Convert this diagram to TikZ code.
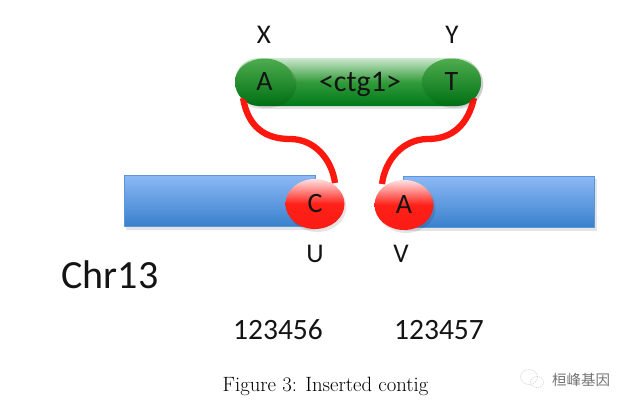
\documentclass[tikz,border=0pt]{standalone}
\usepackage{fontspec}
\setmainfont{Carlito}
\newfontfamily\capfont{Latin Modern Roman}
\newfontfamily\cjk{Noto Sans CJK SC}
\usetikzlibrary{shapes.geometric}
\definecolor{gTop}{RGB}{206,232,206}
\definecolor{gMid}{RGB}{50,155,58}
\definecolor{gBot}{RGB}{0,120,24}
\definecolor{ccTop}{RGB}{78,172,78}
\definecolor{ccBot}{RGB}{0,112,20}
\definecolor{bTop}{RGB}{140,184,245}
\definecolor{bBot}{RGB}{56,128,204}
\definecolor{rTop}{RGB}{255,225,225}
\definecolor{rMid}{RGB}{255,32,24}
\definecolor{rBot}{RGB}{250,28,20}
\definecolor{linkred}{RGB}{252,24,14}
\tikzset{
  x=1pt,y=-1pt,
  lbl/.style={font=\fontsize{27}{27}\selectfont,text=black!92,inner sep=0pt},
  num/.style={font=\fontsize{29.5}{29.5}\selectfont,text=black!92,inner sep=0pt},
  capsule/.style={rounded corners=24pt,draw=none,minimum width=246pt,minimum height=48pt,inner sep=0pt,
     top color=gTop,bottom color=gBot,middle color=gMid},
  capend/.style={ellipse,draw=none,minimum width=59pt,minimum height=47pt,inner sep=0pt,
     font=\fontsize{28}{28}\selectfont,top color=ccTop,bottom color=ccBot,text=black!92},
  bar/.style={rectangle,draw=bBot!60!bTop,line width=.6pt,minimum width=191pt,minimum height=51pt,inner sep=0pt,
     top color=bTop,bottom color=bBot},
  redend/.style={ellipse,draw=none,minimum width=59pt,minimum height=50pt,inner sep=0pt,
     font=\fontsize{28}{28}\selectfont,text=black!92,top color=rTop,bottom color=rBot,middle color=rMid},
  link/.style={draw=linkred,line width=6.3pt,line cap=butt},
  shade1/.style={fill=black,opacity=.10}
}
\begin{document}
\begin{tikzpicture}
\useasboundingbox (0,0) rectangle (630,407);
\fill[white] (0,0) rectangle (630,407);
% shadows
\fill[shade1,rounded corners=24pt] (237,60) rectangle (483,109);
\fill[shade1] (126,178) rectangle (316,230);
\fill[shade1] (404,179) rectangle (597,231);
% bars
\node[bar] (barL) at (220,201) {};
\node[bar] (barR) at (499,202) {};
% capsule
\node[capsule] (ctg) at (358,82) {};
\node[font=\fontsize{30}{30}\selectfont,text=black!92,inner sep=0pt] (ctgl) at (360,84) {<ctg1>};
% links
\coordinate (lnkA) at (243,98);
\coordinate (lnkT) at (474,98);
\coordinate (lnkC) at (335,183);
\coordinate (lnkV) at (382,184);
\draw[link] (lnkA) .. controls (248,127) and (265,139) .. (290,139)
   .. controls (315,139) and (332,160) .. (lnkC);
\draw[link] (lnkT) .. controls (468,125) and (452,139) .. (428,139)
   .. controls (403,139) and (385,160) .. (lnkV);
% ends
\fill[shade1] (267,84) ellipse (29.5 and 24);
\fill[shade1] (454,84) ellipse (29.5 and 24);
\node[capend] (gA) at (264.5,82) {A};
\node[capend] (gT) at (451.5,82) {T};
\fill[shade1] (317,207) ellipse (29.5 and 25);
\fill[shade1] (406,208) ellipse (29.5 and 25);
\node[redend] (rC) at (315,204) {C};
\node[redend] (rA) at (404,205) {A};
% labels
\node[lbl] (X) at (264,35) {X};
\node[lbl] (Y) at (452,35) {Y};
\node[lbl] (U) at (315,254) {U};
\node[lbl] (V) at (401,254) {V};
\node[font=\fontsize{40}{40}\selectfont,text=black!92,inner sep=0pt] (chr) at (110,275) {Chr13};
\node[num] (n1) at (278,330) {123456};
\node[num] (n2) at (439,330) {123457};
\node[font=\capfont\fontsize{20.7}{20.7}\selectfont,inner sep=0pt] (cap) at (325.5,386) {Figure 3: Inserted contig};
% watermark
\begin{scope}[draw=black!18,line width=.5pt,dash pattern=on 1.5pt off .8pt]
\draw (529,377) ellipse (8.5 and 7.5);
\draw (537,382) ellipse (6.5 and 5.5);
\end{scope}
\node[font=\cjk\fontsize{14.5}{14.5}\selectfont,text=black!55,inner sep=0pt] (wm) at (581,380) {桓峰基因};
\end{tikzpicture}
\end{document}
